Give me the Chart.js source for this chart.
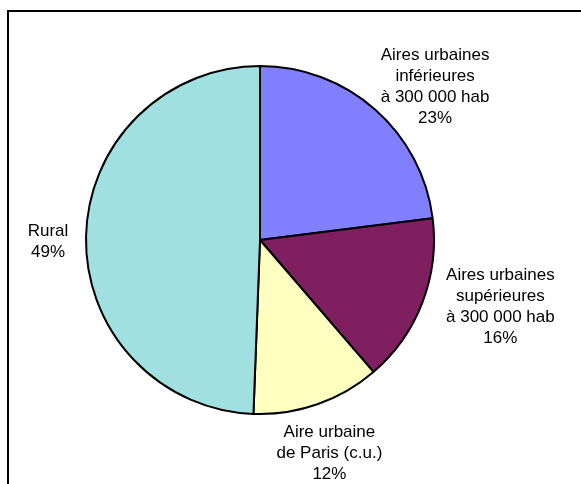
<!DOCTYPE html>
<html>
<head>
<meta charset="utf-8">
<script src="https://cdn.jsdelivr.net/npm/chart.js@4/dist/chart.umd.min.js"></script>
<style>
html,body{margin:0;padding:0;background:#fff;}
#wrap{width:581px;height:484px;position:relative;}
</style>
</head>
<body>
<div id="wrap"><canvas id="c" width="581" height="484"></canvas></div>
<script>
const categories = [
  ["Aires urbaines", "inférieures", "à 300 000 hab"],
  ["Aires urbaines", "supérieures", "à 300 000 hab"],
  ["Aire urbaine", "de Paris (c.u.)"],
  ["Rural"]
];
const shares = [23.0, 15.7, 11.9, 49.4];
const shareLabels = ["23%", "16%", "12%", "49%"];
const sliceColors = ["#8080FF", "#7F1F5F", "#FFFFC0", "#A0E0E0"];

const framePlugin = {
  id: 'frame',
  beforeDraw(chart) {
    const ctx = chart.ctx;
    ctx.save();
    ctx.fillStyle = '#fff';
    ctx.fillRect(0, 0, chart.width, chart.height);
    ctx.strokeStyle = '#000';
    ctx.lineWidth = 2;
    ctx.strokeRect(8, 11, chart.width + 20, chart.height + 20);
    ctx.restore();
  }
};

const labelPlugin = {
  id: 'outLabels',
  afterDatasetsDraw(chart, args, opts) {
    const ctx = chart.ctx;
    const meta = chart.getDatasetMeta(0);
    ctx.save();
    ctx.font = opts.font;
    ctx.fillStyle = '#000';
    ctx.textAlign = 'center';
    ctx.textBaseline = 'middle';
    meta.data.forEach((arc, i) => {
      const mid = (arc.startAngle + arc.endAngle) / 2;
      const mx = arc.x + Math.cos(mid) * arc.outerRadius;
      const my = arc.y + Math.sin(mid) * arc.outerRadius;
      const off = opts.offsets[i];
      const cx = mx + off[0];
      const cy = my + off[1];
      const lines = categories[i].concat([shareLabels[i]]);
      const lh = opts.lineHeight;
      const top = cy - (lines.length - 1) * lh / 2;
      lines.forEach((t, k) => ctx.fillText(t, cx, top + k * lh));
    });
    ctx.restore();
  }
};

new Chart(document.getElementById('c'), {
  type: 'pie',
  data: {
    labels: categories.map(c => c.join(' ')),
    datasets: [{
      data: shares,
      backgroundColor: sliceColors,
      borderColor: '#000',
      borderWidth: 2,
      hoverOffset: 0
    }]
  },
  options: {
    responsive: false,
    animation: false,
    devicePixelRatio: 1,
    radius: 174,
    layout: { padding: { left: 60, right: 121, top: 60, bottom: 64 } },
    events: [],
    plugins: {
      legend: { display: false },
      tooltip: { enabled: false },
      outLabels: {
        font: '17px "Liberation Sans", Arial, sans-serif',
        lineHeight: 21,
        offsets: [[60, -23], [78, 4], [12, 49], [-38, 5]]
      }
    }
  },
  plugins: [framePlugin, labelPlugin]
});
</script>
</body>
</html>
